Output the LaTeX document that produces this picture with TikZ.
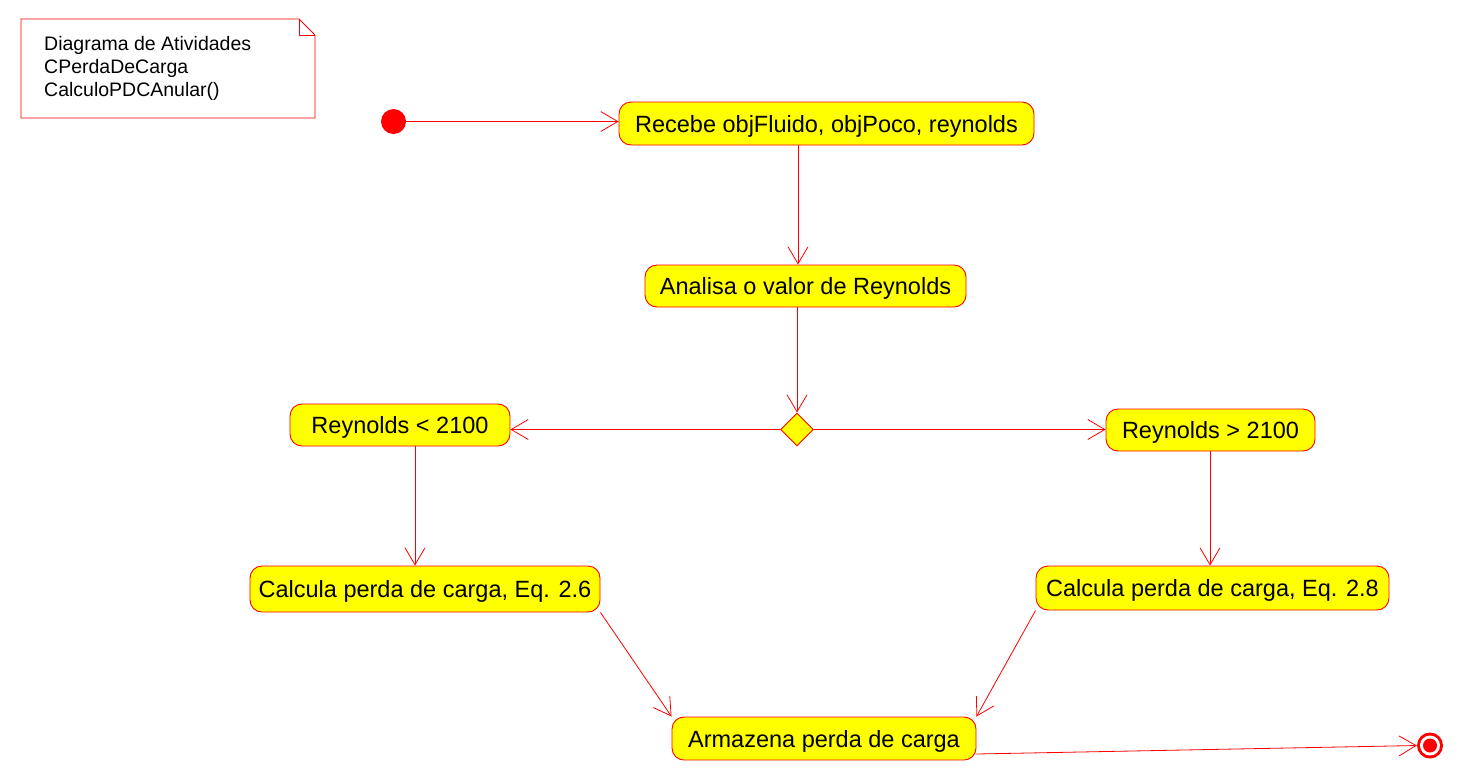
\documentclass[tikz,border=0pt]{standalone}
\usepackage{fontspec}
\setmainfont{Liberation Sans}
\usetikzlibrary{arrows.meta,shapes.geometric}
\definecolor{umlred}{HTML}{FF0000}
\definecolor{umlyellow}{HTML}{FFFF00}
\tikzset{
  act/.style={draw=umlred, fill=umlyellow, rounded corners=12pt, line width=0.9pt,
    inner sep=0pt, font=\fontsize{23.5}{27}\selectfont, text=black,
    text height=19pt, text depth=2pt},
  flow/.style={draw=umlred, line width=0.8pt, -{Straight Barb[length=17pt,width=20pt,line width=0.8pt]}},
  notetext/.style={font=\fontsize{19.5}{23}\selectfont, anchor=base west, inner sep=0pt, text=black}
}
\begin{document}
\begin{tikzpicture}[x=1pt,y=-1pt]
\useasboundingbox (0,0) rectangle (1463,780);
% note
\draw[umlred, line width=0.9pt] (21,19) -- (299,19) -- (315,35) -- (315,118) -- (21,118) -- cycle;
\draw[umlred, line width=0.9pt] (299,19) -- (299,35) -- (315,35);
\node[notetext] (note1) at (44,50) {Diagrama de Atividades};
\node[notetext] (note2) at (44,73) {CPerdaDeCarga};
\node[notetext] (note3) at (44,96) {CalculoPDCAnular()};
% start
\node[circle, fill=umlred, minimum size=25pt, inner sep=0pt] (start) at (393.5,121.5) {};
% activities
\node[act, minimum width=415pt, minimum height=43pt] (recebe) at (826.5,123.5) {Recebe objFluido, objPoco, reynolds};
\node[act, minimum width=321pt, minimum height=42pt] (analisa) at (805.5,286) {Analisa o valor de Reynolds};
\node[diamond, draw=umlred, fill=umlyellow, line width=0.9pt, minimum width=33pt, minimum height=33pt, inner sep=0pt] (dec) at (797,429.5) {};
\node[act, minimum width=220pt, minimum height=42pt] (rl) at (400,425) {Reynolds < 2100};
\node[act, minimum width=209pt, minimum height=42pt] (rg) at (1210.5,430) {Reynolds > 2100};
\node[act, minimum width=350pt, minimum height=46pt] (c26) at (425,589) {Calcula perda de carga, Eq. 2.6};
\node[act, minimum width=353pt, minimum height=44pt] (c28) at (1212.5,588) {Calcula perda de carga, Eq. 2.8};
\node[act, minimum width=304pt, minimum height=43pt] (arm) at (824,738.5) {Armazena perda de carga};
% end
\node[circle, fill=umlred, minimum size=26pt, inner sep=0pt] (fim) at (1430,745.5) {};
\fill[white] (fim.center) circle (10pt);
\fill[umlred] (fim.center) circle (7pt);
% coordinates for vertical flows
\coordinate (xl) at (415,500);
\coordinate (xr) at (1210,500);
\coordinate (xm) at (798,200);
% flows
\draw[flow] (start) -- (recebe.west |- start);
\draw[flow] (recebe.south -| xm) -- (analisa.north -| xm);
\draw[flow] (analisa.south -| dec) -- (dec.north);
\draw[flow] (dec.west) -- (rl.east |- dec.west);
\draw[flow] (dec.east) -- (rg.west |- dec.east);
\draw[flow] (rl.south -| xl) -- (c26.north -| xl);
\draw[flow] (rg.south -| xr) -- (c28.north -| xr);
\draw[flow] (c26.south east) -- (arm.north west);
\draw[flow] (c28.south west) -- (arm.north east);
\draw[flow] ([yshift=-15.5pt]arm.east) -- (fim.west);
\end{tikzpicture}
\end{document}
